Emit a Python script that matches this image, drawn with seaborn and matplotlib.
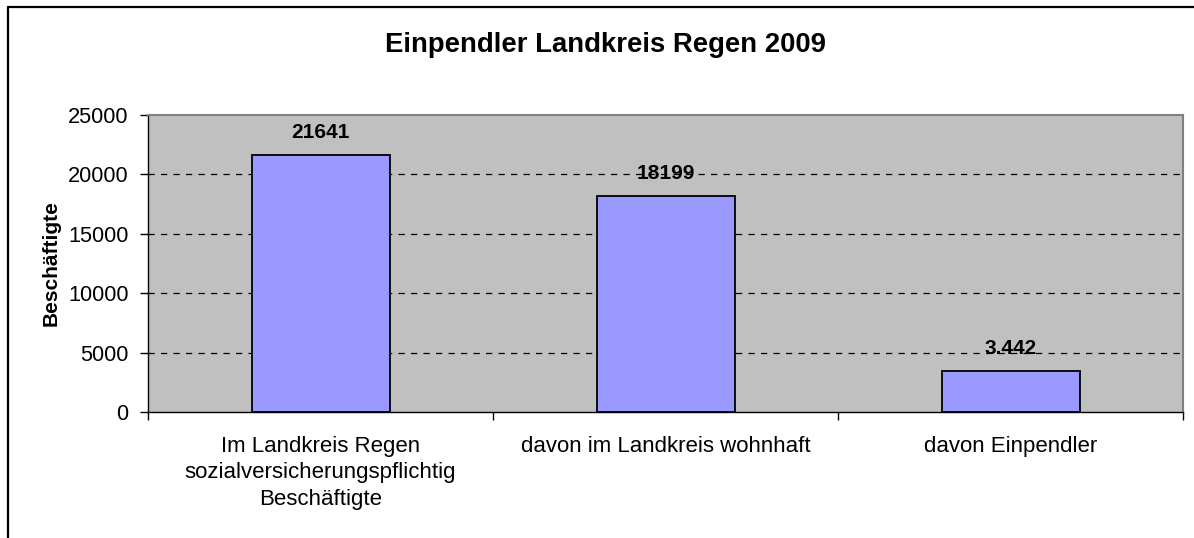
import matplotlib
matplotlib.use("Agg")
import matplotlib.pyplot as plt
import seaborn as sns
import pandas as pd
from matplotlib.lines import Line2D

# Data
categories = ["Im Landkreis Regen\nsozialversicherungspflichtig\nBeschäftigte",
              "davon im Landkreis wohnhaft",
              "davon Einpendler"]
values = [21641, 18199, 3442]
value_labels = ["21641", "18199", "3.442"]
y_ticks = [0, 5000, 10000, 15000, 20000, 25000]

sns.set_style("white")
plt.rcParams['font.family'] = ['Liberation Sans', 'DejaVu Sans']
plt.rcParams['text.color'] = 'black'
plt.rcParams['axes.labelcolor'] = 'black'
plt.rcParams['xtick.color'] = 'black'
plt.rcParams['ytick.color'] = 'black'

df = pd.DataFrame({"cat": categories, "val": values})

fig = plt.figure(figsize=(11.94, 5.38), dpi=100)
ax = fig.add_axes([148 / 1194, 1 - 412 / 538, (1183 - 148) / 1194, (412 - 115) / 538])
ax.set_facecolor("#C0C0C0")

sns.barplot(data=df, x="cat", y="val", ax=ax, color="#9999FF", saturation=1,
            width=0.4, edgecolor="black", linewidth=1.3, zorder=3)

ax.set_ylim(0, 25000)
ax.set_xlim(-0.5, 2.5)
ax.set_yticks(y_ticks)
ax.set_yticklabels([str(t) for t in y_ticks], fontsize=15.7)
ax.tick_params(axis="y", direction="out", length=6, width=1, pad=8, left=True, color="black")
ax.set_xticks([0, 1, 2])
ax.set_xticklabels(categories, fontsize=16, linespacing=1.36)
ax.tick_params(axis="x", which="major", length=0, pad=17)
ax.set_xticks([-0.5, 0.5, 1.5, 2.5], minor=True)
ax.tick_params(axis="x", which="minor", direction="out", length=6, width=1, bottom=True, color="black")

for y in y_ticks[1:-1]:
    ax.axhline(y, color="black", linestyle=(0, (5, 5)), linewidth=0.9, zorder=1)

for sp in ["top", "right"]:
    ax.spines[sp].set_color("#808080")
    ax.spines[sp].set_linewidth(1.5)
for sp in ["left", "bottom"]:
    ax.spines[sp].set_color("black")
    ax.spines[sp].set_linewidth(1)

for i, (v, lab) in enumerate(zip(values, value_labels)):
    ax.annotate(lab, (i, v), xytext=(0, 12), textcoords="offset points",
                ha="center", va="baseline", fontsize=15, fontweight="bold", zorder=4)

ax.set_xlabel("")
ax.set_ylabel("Beschäftigte", fontsize=15, fontweight="bold", labelpad=5)

fig.text(0.507, 1 - 45 / 538, "Einpendler Landkreis Regen 2009", ha="center", va="center",
         fontsize=19.8, fontweight="bold")

# outer chart frame (top and left edges visible)
fig.add_artist(Line2D([8 / 1194, 1], [1 - 7 / 538, 1 - 7 / 538], color="black", linewidth=1.6,
                      transform=fig.transFigure))
fig.add_artist(Line2D([8 / 1194, 8 / 1194], [0, 1 - 7 / 538], color="black", linewidth=1.6,
                      transform=fig.transFigure))

fig.savefig("out.png", dpi=100, facecolor="white")
